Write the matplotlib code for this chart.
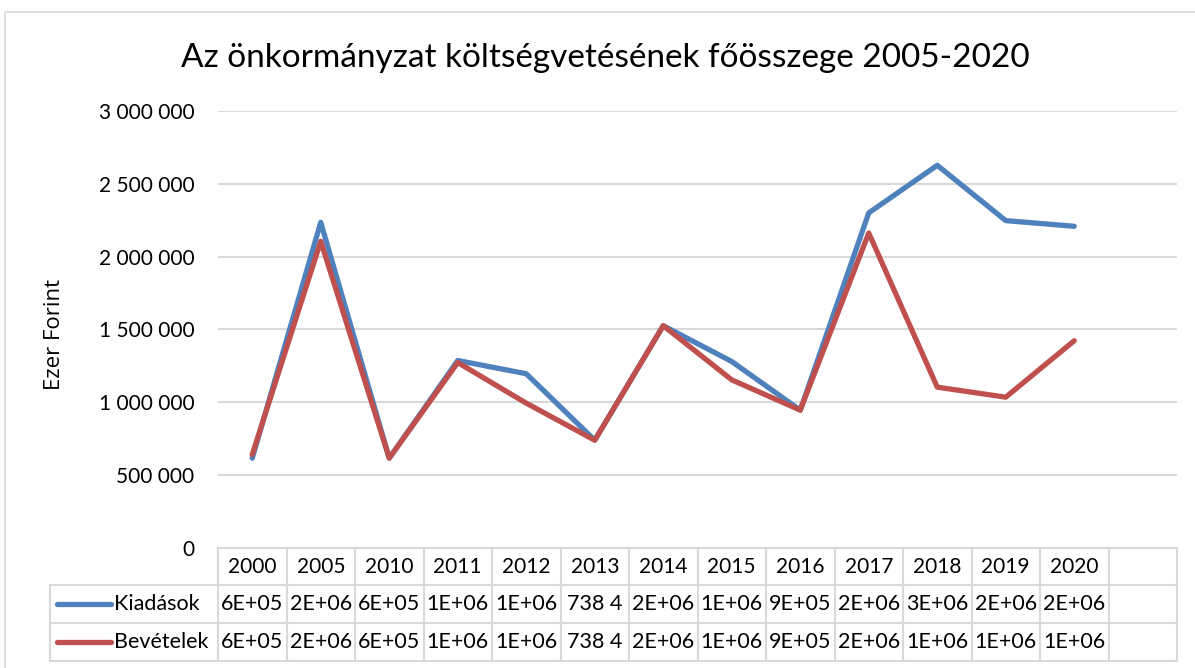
import matplotlib
matplotlib.use("Agg")
import matplotlib.pyplot as plt
from matplotlib.patches import Rectangle

plt.rcParams["font.family"] = ["Lato", "DejaVu Sans"]

# adatok
years = ["2000", "2005", "2010", "2011", "2012", "2013", "2014",
         "2015", "2016", "2017", "2018", "2019", "2020"]
kiadasok = [615000, 2235000, 615000, 1286000, 1195000, 738400, 1525000,
            1279000, 945000, 2300000, 2627000, 2247000, 2208000]
bevetelek = [640000, 2105000, 615000, 1272000, 993000, 738400, 1525000,
             1153000, 945000, 2162000, 1103000, 1034000, 1422000]
series_names = ["Kiadások", "Bevételek"]
colors = ["#4F81BD", "#C0504D"]
yticks = [0, 500000, 1000000, 1500000, 2000000, 2500000, 3000000]

W, H = 1195, 668
grid_col = "#D9D9D9"


def fx(px):
    return px / W


def fy(py):
    return 1 - py / H


def cell_text(v, year):
    # excel: 2013-ban szóközös formátum, levágva
    if year == "2013":
        return f"{v:,.0f}".replace(",", " ")[:5]
    return f"{v:.0E}"


fig = plt.figure(figsize=(W / 100, H / 100), dpi=100)

# keret
fig.patches.append(Rectangle((fx(4.5), fy(1000)), 2, fy(12.3) - fy(1000),
                             transform=fig.transFigure, fill=False,
                             edgecolor=grid_col, linewidth=1.2))

n_slots = len(years) + 1
ax = fig.add_axes([fx(218), fy(547.7), (1177 - 218) / W, (547.7 - 111) / H])
ax.set_xlim(-0.5, n_slots - 0.5)
ax.set_ylim(0, 3000000)
ax.set_yticks(yticks)
ax.set_yticklabels([f"{v:,}".replace(",", " ") for v in yticks], fontsize=15)
ax.tick_params(axis="y", length=0, pad=17)
ax.set_xticks([])
for s in ax.spines.values():
    s.set_visible(False)
ax.yaxis.grid(True, color=grid_col, linewidth=1.5)
ax.set_axisbelow(True)

xs = list(range(len(years)))
for vals, c in zip([kiadasok, bevetelek], colors):
    ax.plot(xs, vals, color=c, linewidth=3.8, solid_capstyle="round",
            solid_joinstyle="round")

fig.text(fx(54), fy(334), "Ezer Forint", rotation=90, ha="center", va="center",
         fontsize=16, family=["Open Sans", "DejaVu Sans"])
fig.text(fx(605), fy(58), "Az önkormányzat költségvetésének főösszege 2005-2020",
         ha="center", va="center", fontsize=24)

# adattábla
tab = fig.add_axes([fx(218), fy(661), (1177 - 218) / W, (661 - 547.7) / H])
tab.set_xlim(-0.5, n_slots - 0.5)
tab.set_ylim(3, 0)
tab.axis("off")
col_w = (1177 - 218) / n_slots
xleft = -0.5 - (218 - 50) / col_w
lk = dict(color=grid_col, linewidth=1.5, clip_on=False)
for i in range(n_slots + 1):
    tab.plot([i - 0.5, i - 0.5], [0, 3], **lk)
tab.plot([-0.5, n_slots - 0.5], [0, 0], **lk)
for r in [1, 2, 3]:
    tab.plot([xleft, n_slots - 0.5], [r, r], **lk)
tab.plot([xleft, xleft], [1, 3], **lk)

for i, y in enumerate(years):
    tab.text(i, 0.5, y, ha="center", va="center", fontsize=15)
for r, (name, vals, c) in enumerate(zip(series_names, [kiadasok, bevetelek], colors)):
    yy = r + 1.5
    tab.plot([xleft + 7 / col_w, xleft + 61 / col_w], [yy, yy], color=c,
             linewidth=3.8, solid_capstyle="round", clip_on=False)
    tab.text(xleft + 64 / col_w, yy, name, ha="left", va="center", fontsize=15.5)
    for i, (v, y) in enumerate(zip(vals, years)):
        tab.text(i, yy, cell_text(v, y), ha="center", va="center", fontsize=15.5)

fig.savefig("out.png", dpi=100)
